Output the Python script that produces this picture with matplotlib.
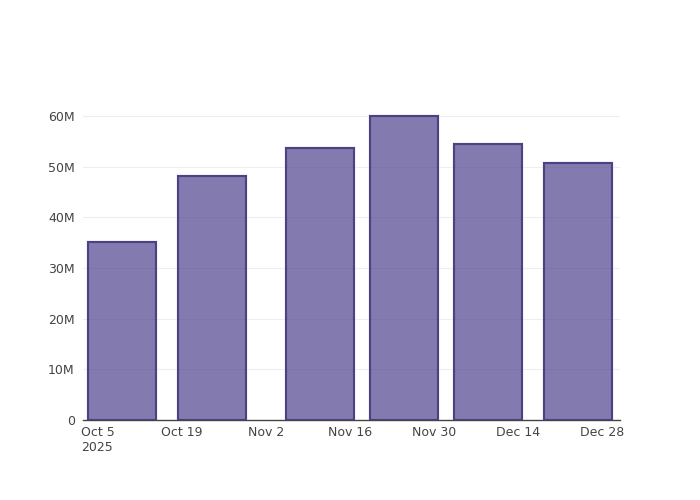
import numpy as np
import matplotlib
matplotlib.use('Agg')
import matplotlib.pyplot as plt
import matplotlib.dates as mdates
from matplotlib.ticker import FuncFormatter
import datetime as dt

dates = ["2025-10-09", "2025-10-24", "2025-11-11", "2025-11-25", "2025-12-09", "2025-12-24"]
values = [35.2e6, 48.1e6, 53.8e6, 60.0e6, 54.6e6, 50.8e6]
tick_dates = ["2025-10-05", "2025-10-19", "2025-11-02", "2025-11-16", "2025-11-30", "2025-12-14", "2025-12-28"]
tick_labels = ["Oct 5\n2025", "Oct 19", "Nov 2", "Nov 16", "Nov 30", "Dec 14", "Dec 28"]

x = [dt.datetime.fromisoformat(d) for d in dates]
xt = [dt.datetime.fromisoformat(d) for d in tick_dates]

fig = plt.figure(figsize=(7, 5), dpi=100)
ax = fig.add_axes([83 / 700, 0.16, (620 - 83) / 700, 0.64])

ax.bar(x, values, width=11.3, color="#483D8B", alpha=0.68,
       edgecolor="#483D8B", linewidth=1.5, zorder=3)
ax.bar(x, values, width=11.3, fill=False, edgecolor="#4a4283",
       linewidth=1.5, zorder=4)

ax.set_xlim(dt.datetime(2025, 10, 2, 12), dt.datetime(2025, 12, 31))
ax.set_ylim(0, 63.2e6)
ax.set_xticks(xt)
ax.set_xticklabels(tick_labels, ha="center", fontsize=9, color="#444444")
for lbl in ax.get_xticklabels()[:1]:
    lbl.set_multialignment("left")
ax.set_yticks(np.arange(0, 61e6, 10e6))
ax.yaxis.set_major_formatter(FuncFormatter(lambda v, p: "0" if v == 0 else f"{v/1e6:.0f}M"))
ax.tick_params(axis="y", labelsize=9, colors="#444444", length=0, pad=6)
ax.tick_params(axis="x", length=0, pad=4)
ax.grid(axis="y", color="#eeeeee", linewidth=0.8, zorder=0)
for s in ["top", "right", "left"]:
    ax.spines[s].set_visible(False)
ax.spines["bottom"].set_color("#444444")
ax.spines["bottom"].set_linewidth(1)

plt.savefig("out.png", dpi=100, facecolor="white")
